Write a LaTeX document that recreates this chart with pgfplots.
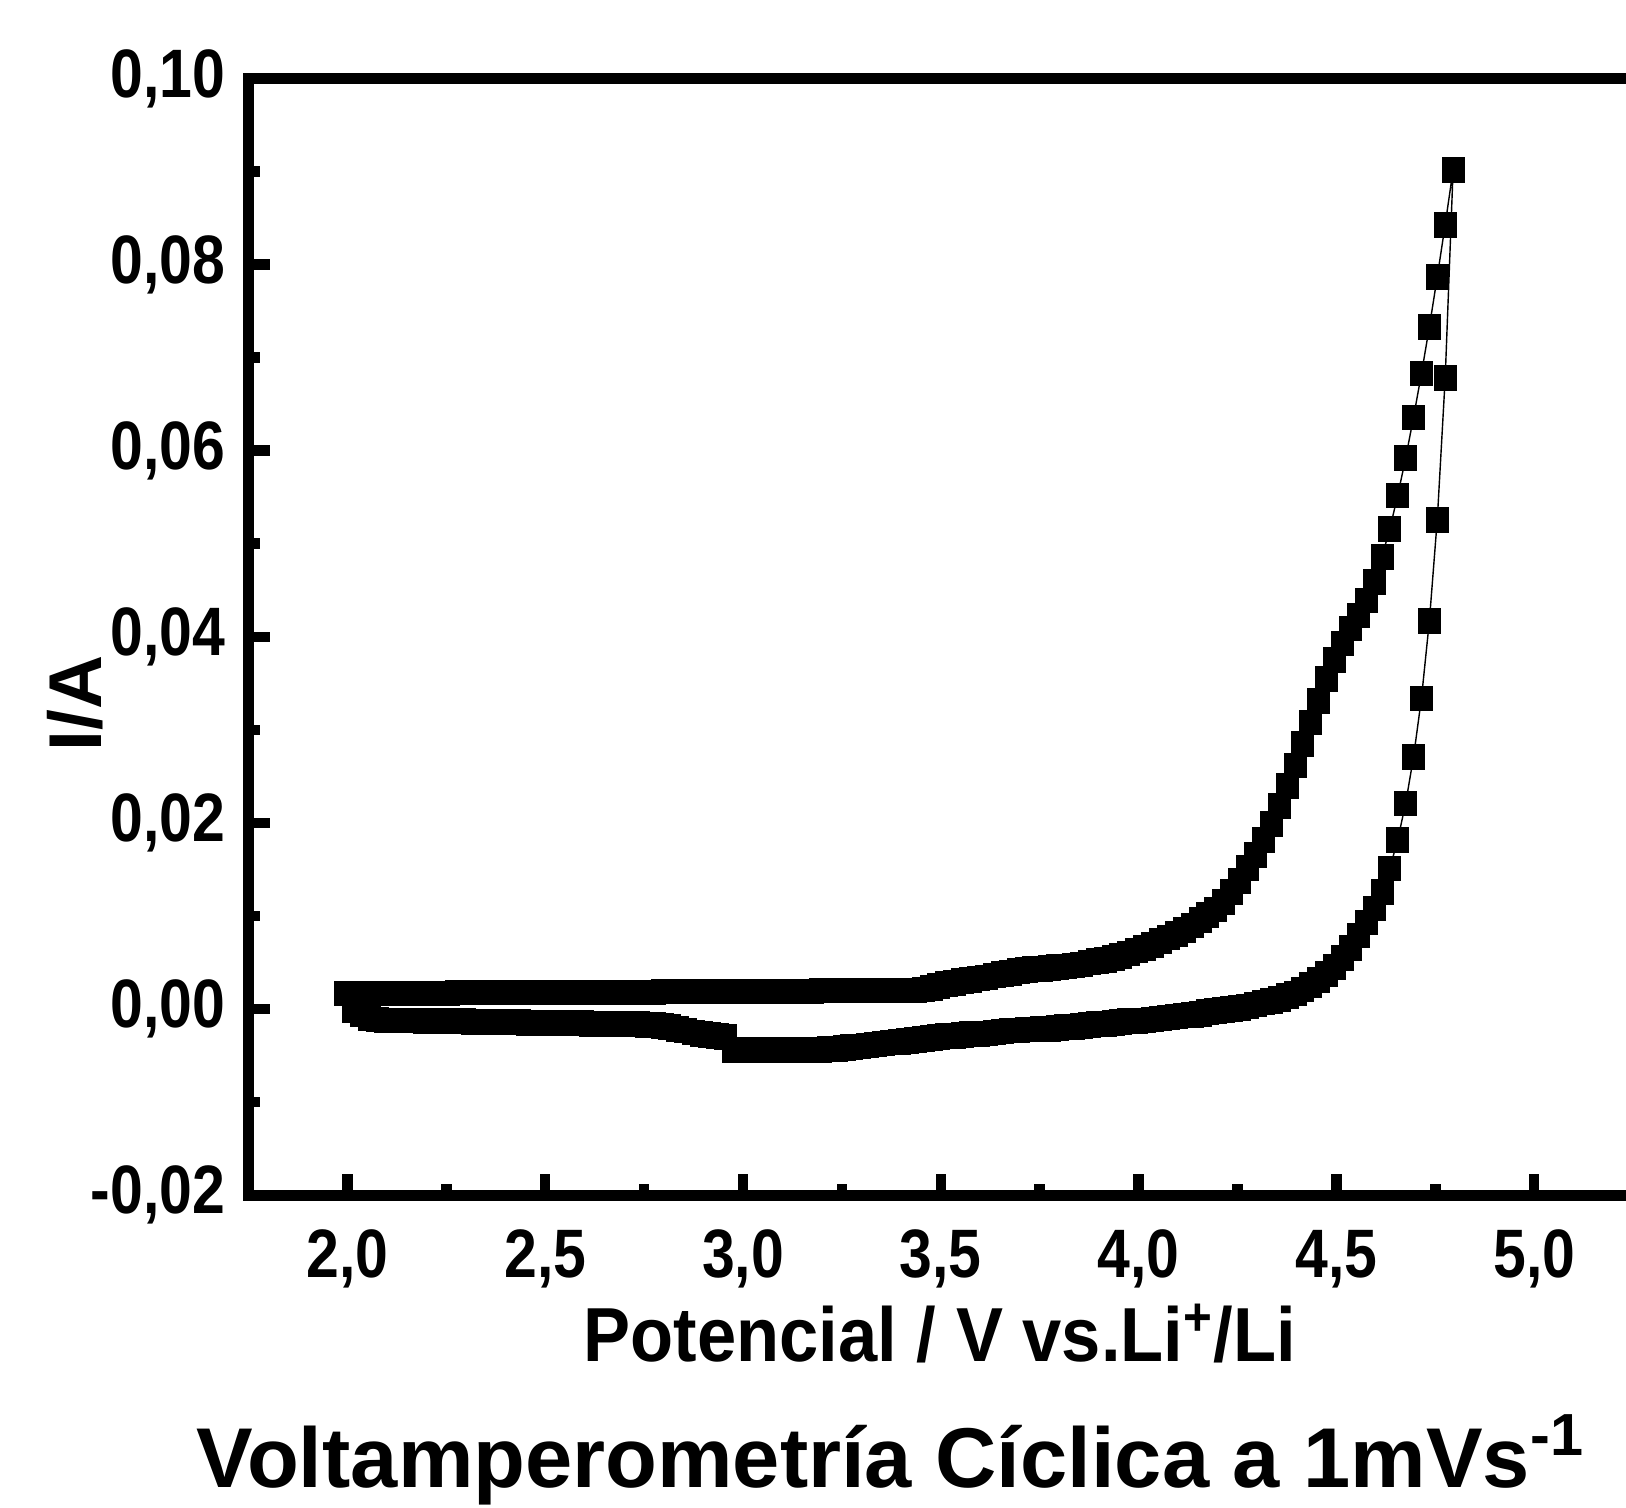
\documentclass[border=0pt]{standalone}
\usepackage{fontspec}
\setmainfont{Liberation Sans}
\newfontfamily\tickfont{Liberation Sans}[FakeStretch=0.86]
\newfontfamily\labelfont{Liberation Sans}[FakeStretch=0.92]
\newfontfamily\titlefont{Liberation Sans}
\usepackage{pgfplots}
\pgfplotsset{compat=1.18}
\begin{document}
\begin{tikzpicture}
\begin{axis}[
  scale only axis,
  width=138.46mm, height=111.66mm,
  xmin=1.75, xmax=5.25, ymin=-0.02, ymax=0.10,
  axis x line=box, axis y line=left,
  axis line style={-, line width=1.1mm, line cap=rect, black},
  xtick pos=left, ytick pos=left,
  tick align=inside,
  major tick length=2.15mm, minor tick length=1.1mm,
  tick style={line width=1.05mm, black},
  xtick={2,2.5,3,3.5,4,4.5,5},
  xticklabels={{2,0},{2,5},{3,0},{3,5},{4,0},{4,5},{5,0}},
  ytick={-0.02,0,0.02,0.04,0.06,0.08,0.1},
  yticklabels={{-0,02},{0,00},{0,02},{0,04},{0,06},{0,08},{0,10}},
  minor x tick num=1, minor y tick num=1,
  ticklabel style={font=\tickfont\bfseries\fontsize{19.5}{22}\selectfont},
  xticklabel style={anchor=base, yshift=-8.24mm},
  yticklabel style={anchor=east, inner xsep=0pt, xshift=-2.25mm},
  xlabel={Potencial / V vs.Li\textsuperscript{+}/Li},
  xlabel style={at={(axis description cs:0.4994,-0.1491)}, anchor=base, inner sep=0pt,
    font=\labelfont\bfseries\fontsize{21.8}{26}\selectfont},
  ylabel={I/A},
  ylabel style={at={(axis description cs:-0.1253,0.4404)}, anchor=center, inner sep=0pt,
    font=\titlefont\bfseries\fontsize{21.3}{26}\selectfont},
  title={Voltamperometría Cíclica a 1mVs\textsuperscript{-1}},
  title style={at={(axis description cs:0.4639,-0.2805)}, anchor=base, inner sep=0pt,
    font=\titlefont\bfseries\fontsize{24.15}{29}\selectfont},
]
\addplot[black, line width=0.4pt, mark=square*, mark size=1.1mm,
  mark options={solid, fill=black, draw=black, line width=0.2pt, yscale=1.12}]
coordinates {
(1.995,0.0017)(2.015,0.0017)(2.035,0.0017)(2.055,0.0017)(2.075,0.0017)(2.095,0.0017)(2.115,0.0017)(2.135,0.0017)(2.155,0.0017)(2.175,0.0017)
(2.195,0.0017)(2.215,0.0017)(2.235,0.0017)(2.255,0.0017)(2.275,0.0018)(2.295,0.0018)(2.315,0.0018)(2.335,0.0018)(2.355,0.0018)(2.375,0.0018)
(2.395,0.0018)(2.415,0.0018)(2.435,0.0018)(2.455,0.0018)(2.475,0.0018)(2.495,0.0018)(2.515,0.0018)(2.535,0.0018)(2.555,0.0018)(2.575,0.0018)
(2.595,0.0018)(2.615,0.0018)(2.635,0.0018)(2.655,0.0018)(2.675,0.0018)(2.695,0.0018)(2.715,0.0018)(2.735,0.0018)(2.755,0.0018)(2.775,0.0018)
(2.795,0.0019)(2.815,0.0019)(2.835,0.0019)(2.855,0.0019)(2.875,0.0019)(2.895,0.0019)(2.915,0.0019)(2.935,0.0019)(2.955,0.0019)(2.975,0.0019)
(2.995,0.0019)(3.015,0.0019)(3.035,0.0019)(3.055,0.0019)(3.075,0.0019)(3.095,0.0019)(3.115,0.0019)(3.135,0.0019)(3.155,0.0019)(3.175,0.0019)
(3.195,0.0020)(3.215,0.0020)(3.235,0.0020)(3.255,0.0020)(3.275,0.0020)(3.295,0.0020)(3.315,0.0020)(3.335,0.0020)(3.355,0.0020)(3.375,0.0020)
(3.395,0.0020)(3.415,0.0020)(3.435,0.0020)(3.455,0.0021)(3.475,0.0023)(3.495,0.0025)(3.515,0.0027)(3.535,0.0028)(3.555,0.0030)(3.575,0.0031)
(3.595,0.0033)(3.615,0.0034)(3.635,0.0036)(3.655,0.0038)(3.675,0.0039)(3.695,0.0041)(3.715,0.0042)(3.735,0.0043)(3.755,0.0043)(3.775,0.0044)
(3.795,0.0045)(3.815,0.0046)(3.835,0.0047)(3.855,0.0048)(3.875,0.0050)(3.895,0.0052)(3.915,0.0053)(3.935,0.0055)(3.955,0.0057)(3.975,0.0060)
(3.995,0.0063)(4.015,0.0066)(4.035,0.0069)(4.055,0.0073)(4.075,0.0077)(4.095,0.0081)(4.115,0.0085)(4.135,0.0090)(4.155,0.0096)(4.175,0.0101)
(4.195,0.0107)(4.215,0.0115)(4.235,0.0126)(4.255,0.0138)(4.275,0.0152)(4.295,0.0166)(4.315,0.0182)(4.335,0.0199)(4.355,0.0218)(4.375,0.0240)
(4.395,0.0262)(4.415,0.0285)(4.435,0.0308)(4.455,0.0331)(4.475,0.0355)(4.495,0.0375)(4.515,0.0393)(4.535,0.0409)(4.555,0.0423)(4.575,0.0439)
(4.595,0.0459)(4.615,0.0486)(4.635,0.0516)(4.655,0.0552)(4.675,0.0592)(4.695,0.0636)(4.715,0.0683)(4.735,0.0733)(4.755,0.0787)(4.775,0.0843)
(4.795,0.0902)
(4.775,0.0678)(4.755,0.0526)(4.735,0.0417)(4.715,0.0334)(4.695,0.0271)(4.675,0.0221)(4.655,0.0182)(4.635,0.0151)(4.615,0.0126)(4.595,0.0108)
(4.575,0.0093)(4.555,0.0079)(4.535,0.0066)(4.515,0.0055)(4.495,0.0045)(4.475,0.0038)(4.455,0.0031)(4.435,0.0026)(4.415,0.0021)(4.395,0.0017)
(4.375,0.0014)(4.355,0.0011)(4.335,0.0009)(4.315,0.0007)(4.295,0.0005)(4.275,0.0003)(4.255,0.0001)(4.235,0.0000)(4.215,-0.0001)(4.195,-0.0002)
(4.175,-0.0003)(4.155,-0.0005)(4.135,-0.0006)(4.115,-0.0007)(4.095,-0.0008)(4.075,-0.0009)(4.055,-0.0010)(4.035,-0.0011)(4.015,-0.0012)(3.995,-0.0013)
(3.975,-0.0013)(3.955,-0.0014)(3.935,-0.0015)(3.915,-0.0016)(3.895,-0.0016)(3.875,-0.0017)(3.855,-0.0018)(3.835,-0.0019)(3.815,-0.0019)(3.795,-0.0020)
(3.775,-0.0021)(3.755,-0.0021)(3.735,-0.0022)(3.715,-0.0022)(3.695,-0.0023)(3.675,-0.0023)(3.655,-0.0024)(3.635,-0.0025)(3.615,-0.0026)(3.595,-0.0027)
(3.575,-0.0027)(3.555,-0.0028)(3.535,-0.0029)(3.515,-0.0029)(3.495,-0.0030)(3.475,-0.0031)(3.455,-0.0032)(3.435,-0.0033)(3.415,-0.0034)(3.395,-0.0035)
(3.375,-0.0036)(3.355,-0.0037)(3.335,-0.0038)(3.315,-0.0039)(3.295,-0.0040)(3.275,-0.0041)(3.255,-0.0042)(3.235,-0.0043)(3.215,-0.0043)(3.195,-0.0044)
(3.175,-0.0044)(3.155,-0.0044)(3.135,-0.0044)(3.115,-0.0044)(3.095,-0.0044)(3.075,-0.0044)(3.055,-0.0044)(3.035,-0.0044)(3.015,-0.0044)(2.995,-0.0044)
(2.975,-0.0044)(2.955,-0.0030)(2.935,-0.0029)(2.915,-0.0028)(2.895,-0.0027)(2.875,-0.0025)(2.855,-0.0023)(2.835,-0.0021)(2.815,-0.0019)(2.795,-0.0018)
(2.775,-0.0017)(2.755,-0.0017)(2.735,-0.0016)(2.715,-0.0016)(2.695,-0.0016)(2.675,-0.0016)(2.655,-0.0016)(2.635,-0.0016)(2.615,-0.0016)(2.595,-0.0015)
(2.575,-0.0015)(2.555,-0.0015)(2.535,-0.0015)(2.515,-0.0015)(2.495,-0.0015)(2.475,-0.0015)(2.455,-0.0015)(2.435,-0.0014)(2.415,-0.0014)(2.395,-0.0014)
(2.375,-0.0014)(2.355,-0.0014)(2.335,-0.0014)(2.315,-0.0014)(2.295,-0.0013)(2.275,-0.0013)(2.255,-0.0013)(2.235,-0.0013)(2.215,-0.0013)(2.195,-0.0013)
(2.175,-0.0012)(2.155,-0.0012)(2.135,-0.0012)(2.115,-0.0012)(2.095,-0.0012)(2.075,-0.0011)(2.055,-0.0010)(2.035,-0.0005)(2.015,-0.0001)
};
\end{axis}
\pgfresetboundingbox
\path (current axis.south west) ++(-24.85mm,-31.19mm) rectangle ++(162.6mm,150.7mm);
\end{tikzpicture}
\end{document}
